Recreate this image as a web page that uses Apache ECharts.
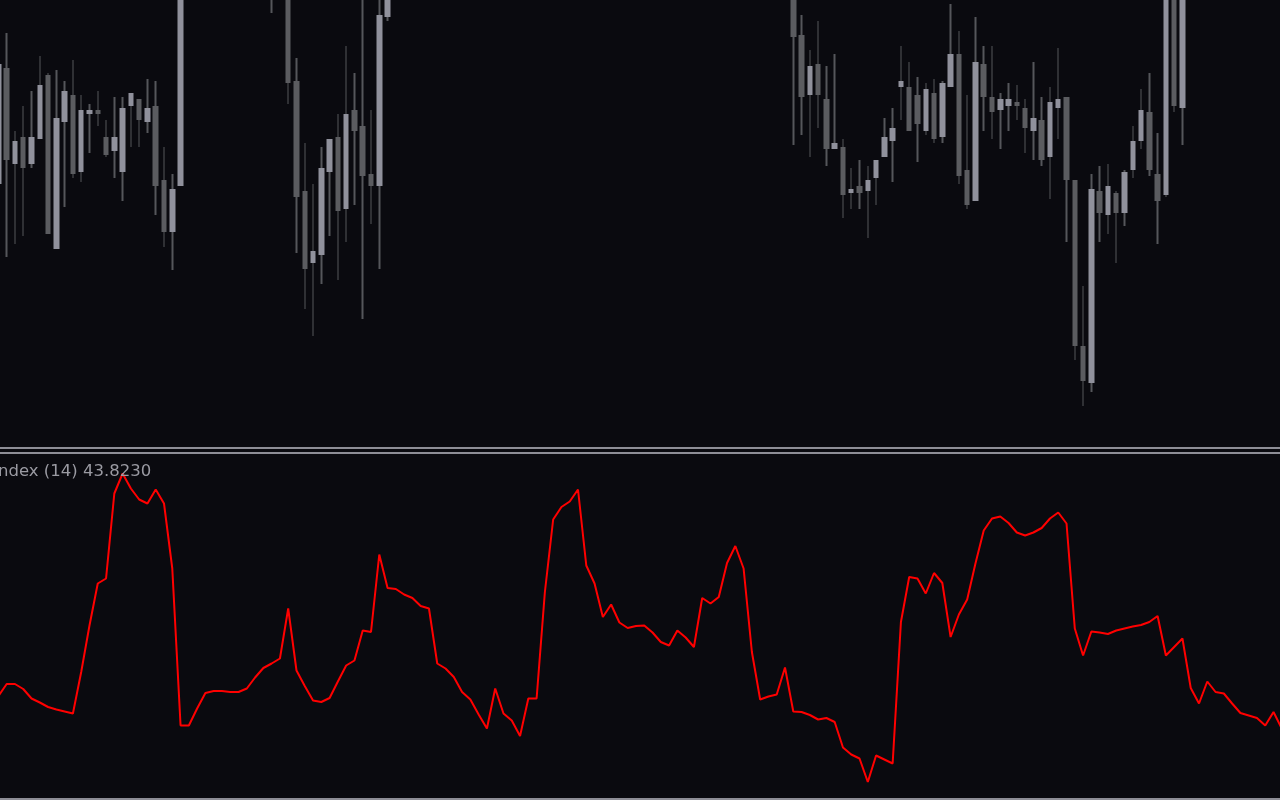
<!DOCTYPE html>
<html><head><meta charset="utf-8">
<script src="https://cdn.jsdelivr.net/npm/echarts@6/dist/echarts.min.js"></script>
<style>html,body{margin:0;padding:0;background:#0a0a0f;overflow:hidden}#c{width:1280px;height:800px;}</style>
</head><body><div id="c"></div>
<script>
// price pane (arbitrary price units), one entry per bar
const opens = [262,378,282,309,282,307,371,197,324,351,274,332,336,309,295,274,340,347,324,340,266,214,260,508,540,566,552,588,612,596,570,584,545,520,470,490,365,255,183,191,274,309,237,336,320,272,260,429,486,512,534,520,556,580,570,602,626,610,644,668,652,688,676,708,730,714,692,660,640,612,588,606,630,618,594,610,632,650,636,662,648,626,640,616,598,620,602,578,590,566,540,556,530,508,520,496,474,411,351,382,347,297,299,253,260,255,268,289,305,359,359,351,315,353,309,359,392,276,245,382,349,336,340,344,338,315,326,289,338,349,266,100,63,255,231,253,233,276,305,334,272,251,478,338,500,526,548,534,562,586,604,590,618,640,626,650];
const closes = [382,286,305,278,309,361,212,328,355,272,336,336,332,291,309,338,353,326,338,260,214,257,510,540,566,552,588,612,596,570,584,545,520,470,490,363,249,177,195,278,307,235,332,315,270,260,431,486,512,534,520,556,580,570,602,626,610,644,668,652,688,676,708,730,714,692,660,640,612,588,606,630,618,594,610,632,650,636,662,648,626,640,616,598,620,602,578,590,566,540,556,530,508,520,496,474,409,349,380,351,297,303,251,257,253,266,286,309,318,365,315,322,357,307,363,392,270,241,384,349,334,347,347,340,318,328,286,344,347,266,100,65,257,233,260,233,274,305,336,276,245,486,340,500,526,548,534,562,586,604,590,618,640,626,650,668];
const lows = [255,189,202,210,278,307,212,197,239,268,264,293,320,289,268,245,299,299,313,231,199,176,260,495,528,538,545,575,580,555,548,530,500,433,455,342,193,137,110,162,210,166,204,241,127,222,177,425,478,500,508,514,548,558,562,594,598,604,632,640,646,660,670,696,702,680,648,626,600,574,578,598,604,582,586,600,622,624,630,638,614,616,604,586,590,592,566,568,552,528,532,518,496,498,484,462,301,311,289,318,280,297,228,237,237,208,241,289,264,326,315,284,311,303,303,359,262,237,245,315,307,297,315,326,293,286,280,247,307,204,86,40,54,204,212,183,220,268,297,270,202,249,334,301,492,514,520,528,550,574,578,584,606,612,618,640];
const highs = [392,413,315,340,355,390,373,376,365,386,351,342,355,326,349,349,353,347,367,365,299,272,520,552,580,590,604,630,625,610,598,592,556,532,512,500,388,303,262,299,307,332,400,373,456,336,452,498,520,548,546,566,592,596,614,640,634,656,680,684,700,702,720,744,738,726,700,672,652,620,618,642,646,628,622,644,664,660,676,672,656,652,648,626,632,634,610,602,598,574,568,562,540,532,528,504,480,431,396,425,380,392,307,278,286,280,286,328,338,400,384,369,363,367,365,442,415,351,429,400,400,353,363,361,347,384,349,359,398,349,266,160,272,280,282,255,276,320,357,373,313,498,492,512,538,560,556,574,598,618,614,630,652,648,662,680];
// indicator pane values
const indicator = [20.2,22.6,22.6,21.6,19.7,18.9,18.0,17.5,17.1,16.7,25.0,34.3,42.7,43.7,60.7,64.7,61.7,59.5,58.7,61.5,58.7,45.7,14.3,14.3,17.7,20.8,21.2,21.2,21.0,21.0,21.7,23.9,25.8,26.7,27.7,37.7,25.3,22.2,19.3,19.0,19.8,23.1,26.3,27.3,33.3,33.0,48.5,41.8,41.6,40.5,39.8,38.2,37.7,26.7,25.7,24.0,21.0,19.5,16.5,13.7,21.7,16.7,15.3,12.2,19.7,19.7,41.0,55.5,58.0,59.1,61.5,46.3,42.7,36.0,38.5,34.9,33.8,34.2,34.3,32.9,31.0,30.3,33.3,31.9,30.0,39.8,38.7,40.0,46.8,50.2,45.7,29.0,19.5,20.1,20.5,25.9,17.1,17.0,16.4,15.5,15.8,15.0,9.9,8.5,7.7,3.0,8.3,7.5,6.7,35.0,44.0,43.7,40.7,44.8,42.8,32.0,36.5,39.5,46.7,53.3,55.7,56.1,54.8,52.9,52.3,52.9,53.8,55.7,56.9,54.7,33.7,28.3,33.1,32.9,32.6,33.3,33.7,34.1,34.4,35.0,36.2,28.3,30.0,31.7,21.8,18.7,23.1,21.0,20.7,18.7,16.8,16.3,15.8,14.3,17.0,13.7];
const indicatorLabel = 'ndex (14) 43.8230';
// visible bar window (bar index units): first bar sits partly off the left edge
const viewMin = 0.193, viewMax = 154.782;

const BG = '#0a0a0f', BULL = '#90919c', BEAR = '#5b5c60', WICK = '#55565b', SEP = '#8e8e96';
const wicks = opens.map((o, i) => [i, lows[i], highs[i], lows[i], highs[i]]);
const bodies = opens.map((o, i) => [i, o, closes[i], Math.min(o, closes[i]), Math.max(o, closes[i])]);
const lineData = indicator.map((v, i) => [i, v]);

const chart = echarts.init(document.getElementById('c'), null, {renderer: 'canvas'});
chart.setOption({
  backgroundColor: BG,
  animation: false,
  grid: [
    {left: 0, right: 0, top: 0, height: 446},
    {left: 0, right: 0, top: 454, height: 343}
  ],
  xAxis: [
    {type: 'value', gridIndex: 0, min: viewMin, max: viewMax, show: false},
    {type: 'value', gridIndex: 1, min: viewMin, max: viewMax, show: false}
  ],
  yAxis: [
    {type: 'value', gridIndex: 0, min: 0, max: 446, show: false},
    {type: 'value', gridIndex: 1, min: 0, max: 68.6, show: false}
  ],
  series: [
    {type: 'candlestick', name: 'wicks', xAxisIndex: 0, yAxisIndex: 0, data: wicks, clip: true,
     encode: {x: 0, y: [1, 2, 3, 4]}, barWidth: 2, silent: true,
     itemStyle: {color: WICK, color0: WICK, borderColor: WICK, borderColor0: WICK, borderWidth: 0}},
    {type: 'candlestick', name: 'bodies', xAxisIndex: 0, yAxisIndex: 0, data: bodies, clip: true,
     encode: {x: 0, y: [1, 2, 3, 4]}, barWidth: 6, silent: true,
     itemStyle: {color: BULL, color0: BEAR, borderColor: BULL, borderColor0: BEAR, borderWidth: 0}},
    {type: 'line', name: 'indicator', xAxisIndex: 1, yAxisIndex: 1, data: lineData,
     showSymbol: false, symbol: 'none', smooth: false, clip: true, silent: true,
     lineStyle: {color: '#ff0000', width: 2}}
  ],
  graphic: [
    {type: 'rect', left: 0, top: 447, shape: {width: 1280, height: 2}, style: {fill: SEP}, silent: true},
    {type: 'rect', left: 0, top: 452, shape: {width: 1280, height: 2}, style: {fill: SEP}, silent: true},
    {type: 'rect', left: 0, top: 798, shape: {width: 1280, height: 2}, style: {fill: SEP}, silent: true},
    {type: 'text', left: -2, top: 463, z: 100, silent: true,
     style: {text: indicatorLabel, fill: '#9a9aa2', font: '16.5px "DejaVu Sans"'}}
  ]
});
</script></body></html>
